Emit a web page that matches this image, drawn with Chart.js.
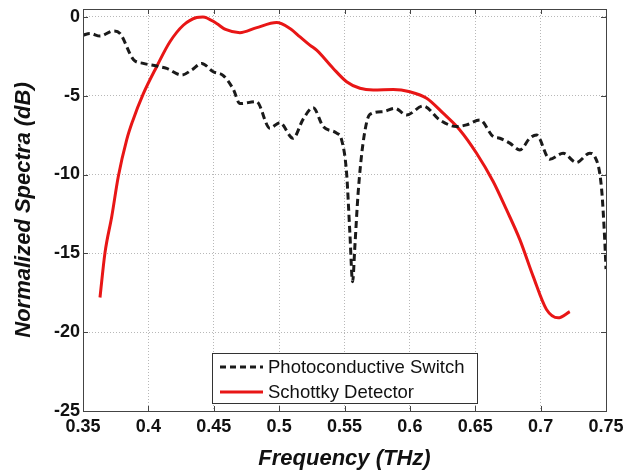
<!DOCTYPE html>
<html>
<head>
<meta charset="utf-8">
<script src="https://cdn.jsdelivr.net/npm/chart.js@4.4.1/dist/chart.umd.min.js"></script>
<style>
  html, body { margin: 0; padding: 0; background: #fff; }
  #wrap { width: 626px; height: 472px; }
</style>
</head>
<body>
<div id="wrap"><canvas id="myChart"></canvas></div>
<script>
// Photoconductive switch (black dashed)
const freqPC = [0.350, 0.3554, 0.363, 0.3732, 0.3783, 0.3885, 0.3961, 0.4064, 0.414, 0.4255,
    0.4331, 0.4408, 0.4496, 0.4573, 0.465, 0.470, 0.4827, 0.4929, 0.5005, 0.5107,
    0.5183, 0.526, 0.5337, 0.544, 0.5478, 0.5516, 0.5541, 0.5562, 0.5579, 0.5604,
    0.5642, 0.5693, 0.5796, 0.5885, 0.5975, 0.6102, 0.6229, 0.6357, 0.6433, 0.6535,
    0.6637, 0.6688, 0.6764, 0.6841, 0.6917, 0.6968, 0.707, 0.7172, 0.7274, 0.7376,
    0.7414, 0.7465, 0.749, 0.750];
const dbPC = [-1.16, -1.05, -1.22, -0.89, -1.05, -2.70, -2.95, -3.12, -3.27, -3.69,
    -3.37, -2.95, -3.48, -3.72, -4.6, -5.5, -5.38, -7.06, -6.71, -7.70,
    -6.5, -5.76, -6.96, -7.38, -7.80, -9.91, -13.7, -16.8, -14.6, -11.2,
    -8.0, -6.2, -6.01, -5.80, -6.22, -5.65, -6.54, -6.96, -6.85, -6.54,
    -7.59, -7.70, -8.01, -8.44, -7.70, -7.49, -9.03, -8.65, -9.24, -8.65,
    -8.86, -10.8, -14.1, -16.0];

// Schottky detector (red)
const freqSD = [0.363, 0.3668, 0.372, 0.377, 0.3834, 0.388, 0.396, 0.4063, 0.4165, 0.4267,
    0.4369, 0.4417, 0.4522, 0.459, 0.470, 0.4823, 0.4981, 0.5083, 0.516, 0.5235,
    0.5287, 0.5414, 0.5516, 0.5618, 0.572, 0.5873, 0.600, 0.6128, 0.6254, 0.6382,
    0.651, 0.6637, 0.6739, 0.6841, 0.6943, 0.7045, 0.7134, 0.7223];
const dbSD = [-17.8, -14.97, -12.66, -10.13, -7.80, -6.6, -4.9, -3.16, -1.58, -0.53,
    -0.04, 0, -0.42, -0.8, -1.0, -0.7, -0.36, -0.74, -1.27, -1.79,
    -2.11, -3.27, -4.11, -4.53, -4.64, -4.60, -4.75, -5.16, -6.11, -7.17,
    -8.65, -10.44, -12.23, -14.13, -16.46, -18.56, -19.09, -18.7];

const seriesNames = ['Photoconductive Switch', 'Schottky Detector'];
const xTicks = [0.35, 0.4, 0.45, 0.5, 0.55, 0.6, 0.65, 0.7, 0.75];
const xTickLabels = ['0.35', '0.4', '0.45', '0.5', '0.55', '0.6', '0.65', '0.7', '0.75'];
const yTicks = [-25, -20, -15, -10, -5, 0];
const yTickLabels = ['-25', '-20', '-15', '-10', '-5', '0'];

const FONT = "'Liberation Sans', Arial, sans-serif";
const RED = 'rgb(232,22,22)';
const DARK = '#1a1a1a';

// frame, inward ticks and the legend box drawn on top
const matlabFrame = {
    id: 'matlabFrame',
    afterDraw(chart) {
        const ctx = chart.ctx;
        const a = chart.chartArea;
        const xs = chart.scales.x, ys = chart.scales.y;
        ctx.save();
        ctx.strokeStyle = '#444';
        ctx.lineWidth = 1;
        ctx.setLineDash([]);
        ctx.beginPath();
        xTicks.forEach(v => {
            const px = Math.round(xs.getPixelForValue(v)) + 0.5;
            ctx.moveTo(px, a.bottom); ctx.lineTo(px, a.bottom - 5);
            ctx.moveTo(px, a.top); ctx.lineTo(px, a.top + 5);
        });
        yTicks.forEach(v => {
            const py = Math.round(ys.getPixelForValue(v)) + 0.5;
            ctx.moveTo(a.left, py); ctx.lineTo(a.left + 5, py);
            ctx.moveTo(a.right, py); ctx.lineTo(a.right - 5, py);
        });
        ctx.stroke();
        ctx.strokeRect(Math.round(a.left) + 0.5, Math.round(a.top) + 0.5,
            Math.round(a.right - a.left), Math.round(a.bottom - a.top));

        // legend
        const lx = a.left + 129, ly = a.bottom - 58, lw = 265, lh = 50;
        ctx.fillStyle = '#fff';
        ctx.fillRect(lx, ly, lw, lh);
        ctx.strokeStyle = '#333';
        ctx.strokeRect(lx + 0.5, ly + 0.5, lw, lh);
        const rows = [ly + 14, ly + 39];
        ctx.lineWidth = 3;
        ctx.strokeStyle = DARK;
        ctx.setLineDash([6, 4]);
        ctx.beginPath(); ctx.moveTo(lx + 8, rows[0]); ctx.lineTo(lx + 51, rows[0]); ctx.stroke();
        ctx.setLineDash([]);
        ctx.strokeStyle = RED;
        ctx.beginPath(); ctx.moveTo(lx + 8, rows[1]); ctx.lineTo(lx + 51, rows[1]); ctx.stroke();
        ctx.fillStyle = '#111';
        ctx.font = '18.5px ' + FONT;
        ctx.textBaseline = 'middle';
        ctx.textAlign = 'left';
        ctx.fillText(seriesNames[0], lx + 56, rows[0] + 1);
        ctx.fillText(seriesNames[1], lx + 56, rows[1] + 1);
        ctx.restore();
    }
};

const ctx = document.getElementById('myChart').getContext('2d');
const myChart = new Chart(ctx, {
    type: 'line',
    data: {
        datasets: [
            {
                label: seriesNames[0],
                data: freqPC.map((f, i) => ({ x: f, y: dbPC[i] })),
                borderColor: DARK,
                borderWidth: 3,
                borderDash: [7, 4],
                pointRadius: 0,
                fill: false,
                cubicInterpolationMode: 'monotone'
            },
            {
                label: seriesNames[1],
                data: freqSD.map((f, i) => ({ x: f, y: dbSD[i] })),
                borderColor: RED,
                borderWidth: 3,
                pointRadius: 0,
                fill: false,
                cubicInterpolationMode: 'monotone'
            }
        ]
    },
    options: {
        responsive: true,
        maintainAspectRatio: false,
        animation: false,
        layout: { padding: { top: 9, right: 20, left: 0, bottom: 0 } },
        scales: {
            x: {
                type: 'linear',
                min: 0.35,
                max: 0.75,
                afterBuildTicks: scale => { scale.ticks = xTicks.map(v => ({ value: v })); },
                afterFit: scale => {
                    scale.height = 61;
                    scale.paddingLeft = 0;
                    scale.paddingRight = 0;
                },
                ticks: {
                    callback: (v, i) => xTickLabels[i],
                    font: { family: FONT, size: 18, weight: 'bold', lineHeight: 1 },
                    color: '#111',
                    padding: 7,
                    maxRotation: 0,
                    autoSkip: false
                },
                grid: { color: '#b8b8b8', drawTicks: false, lineWidth: 1 },
                border: { display: false, dash: [1, 2] },
                title: {
                    display: true,
                    text: 'Frequency (THz)',
                    font: { family: FONT, size: 22, weight: 'bold', style: 'italic' },
                    color: '#111',
                    padding: { top: 0, bottom: 0 }
                }
            },
            y: {
                min: -25,
                max: 0.5,
                afterBuildTicks: scale => { scale.ticks = yTicks.map(v => ({ value: v })); },
                afterFit: scale => {
                    scale.width = 83;
                    scale.paddingTop = 0;
                    scale.paddingBottom = 0;
                },
                ticks: {
                    callback: (v, i) => yTickLabels[i],
                    font: { family: FONT, size: 18, weight: 'bold', lineHeight: 1 },
                    color: '#111',
                    padding: 3,
                    autoSkip: false
                },
                grid: { color: '#b8b8b8', drawTicks: false, lineWidth: 1 },
                border: { display: false, dash: [1, 2] },
                title: {
                    display: true,
                    text: 'Normalized Spectra (dB)',
                    font: { family: FONT, size: 22, weight: 'bold', style: 'italic' },
                    color: '#111',
                    padding: { top: 11, bottom: 0 }
                }
            }
        },
        plugins: {
            legend: { display: false },
            tooltip: { enabled: false }
        }
    },
    plugins: [matlabFrame]
});
</script>
</body>
</html>
